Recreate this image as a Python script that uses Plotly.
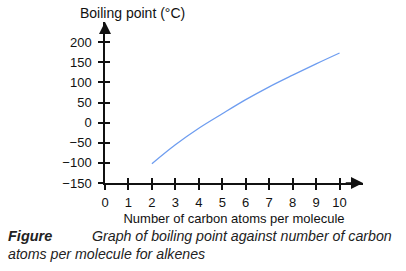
import plotly.graph_objects as go

carbon_atoms = [2, 3, 4, 5, 6, 7, 8, 9, 10]
boiling_point = [-102, -55, -14, 22, 57, 89, 118, 146, 173]
x_ticks = [0, 1, 2, 3, 4, 5, 6, 7, 8, 9, 10]
y_ticks = [-150, -100, -50, 0, 50, 100, 150, 200]

X_RANGE = [0, 11]
Y_RANGE = [-150, 250]
FONT = "Liberation Sans, Arial, sans-serif"
INK = "#111111"

fig = go.Figure()
fig.add_trace(go.Scatter(
    x=carbon_atoms, y=boiling_point, mode="lines",
    line=dict(color="#6e9df0", width=1.3, shape="spline", smoothing=1.0),
    showlegend=False, hoverinfo="skip"))
# invisible trace to host the overlay axes (tick marks on the other side)
fig.add_trace(go.Scatter(x=[X_RANGE[0]], y=[Y_RANGE[0]], xaxis="x2", yaxis="y2",
                         mode="markers", marker=dict(opacity=0), showlegend=False,
                         hoverinfo="skip"))

tick_style = dict(showgrid=False, zeroline=False, tickcolor=INK, tickwidth=1.5, ticklen=5)
line_style = dict(linecolor=INK, linewidth=1.5)
fig.update_layout(
    width=406, height=271,
    margin=dict(l=105.3, r=43.3, t=22.3, b=87.5),
    paper_bgcolor="white", plot_bgcolor="white",
    font=dict(family=FONT, size=13, color=INK),
    xaxis=dict(range=X_RANGE, tickvals=x_ticks, ticktext=[str(v) for v in x_ticks],
               showline=True, ticks="outside", ticklabelstandoff=2,
               title=dict(text="Number of carbon atoms per molecule", standoff=5,
                          font=dict(size=13, color=INK)),
               tickfont=dict(size=13, color=INK), **tick_style, **line_style),
    yaxis=dict(range=Y_RANGE, tickvals=y_ticks, showline=True, ticks="outside",
               ticklabelstandoff=4,
               tickfont=dict(size=13, color=INK), **tick_style, **line_style),
    xaxis2=dict(range=X_RANGE, overlaying="x", anchor="y", side="bottom",
                tickvals=x_ticks, showticklabels=False, ticks="inside",
                showline=False, **tick_style),
    yaxis2=dict(range=Y_RANGE, overlaying="y", anchor="x", side="left",
                tickvals=y_ticks, showticklabels=False, ticks="inside",
                showline=False, **tick_style),
)

arrow = dict(showarrow=True, arrowhead=2, arrowsize=1.6, arrowwidth=1.5,
             arrowcolor=INK, text="", axref="x", ayref="y", xref="x", yref="y")
fig.add_annotation(x=X_RANGE[1], y=Y_RANGE[0], ax=X_RANGE[1] - 0.8, ay=Y_RANGE[0], **arrow)
fig.add_annotation(x=X_RANGE[0], y=Y_RANGE[1], ax=X_RANGE[0], ay=Y_RANGE[1] - 30, **arrow)

fig.add_annotation(text="Boiling point (°C)", xref="x", yref="paper", x=0, y=1,
                   xanchor="left", yanchor="bottom", xshift=-27, yshift=-1,
                   showarrow=False, font=dict(size=14, color=INK))
fig.add_annotation(text="<b><i>Figure</i></b>", xref="paper", yref="paper",
                   x=-0.382, y=-0.332, xanchor="left", yanchor="middle",
                   showarrow=False, font=dict(size=14.5, color="#222222"))
fig.add_annotation(text="<i>Graph of boiling point against number of carbon</i>",
                   xref="paper", yref="paper", x=-0.0594, y=-0.332,
                   xanchor="left", yanchor="middle", showarrow=False,
                   font=dict(size=14.2, color="#222222"))
fig.add_annotation(text="<i>atoms per molecule for alkenes</i>",
                   xref="paper", yref="paper", x=-0.382, y=-0.444,
                   xanchor="left", yanchor="middle", showarrow=False,
                   font=dict(size=14.2, color="#222222"))

fig.write_html("out.html")
